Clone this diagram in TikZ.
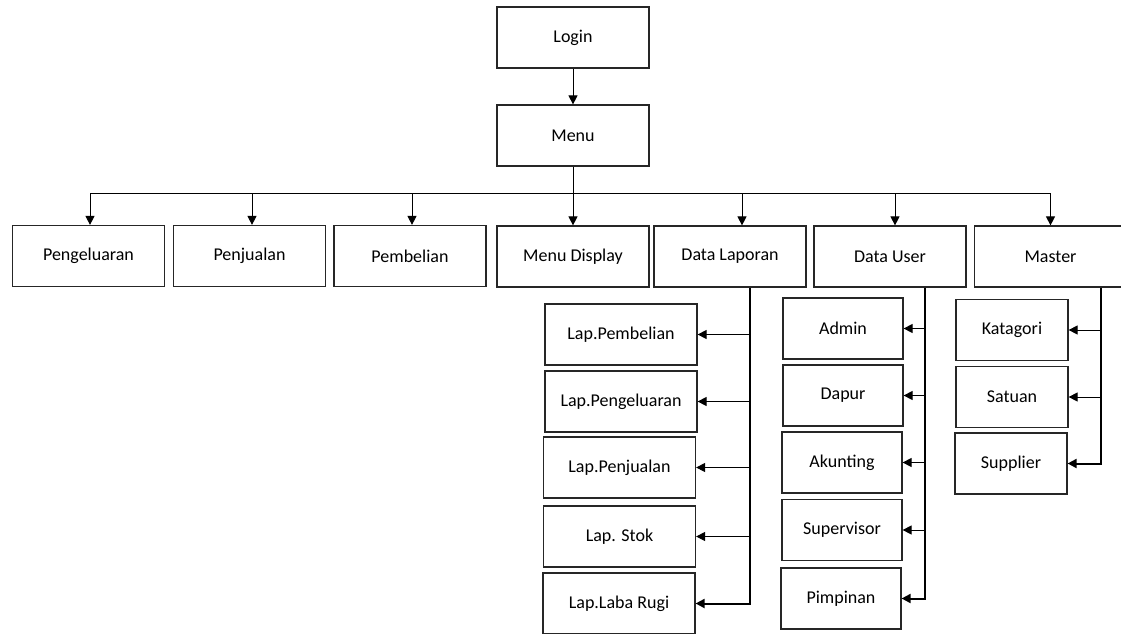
\documentclass[tikz,border=0pt]{standalone}
\usepackage{fontspec}
\setmainfont{Carlito}
\usetikzlibrary{arrows.meta}
\begin{document}
\begin{tikzpicture}[x=1pt,y=-1pt,
    kotak/.style={draw=black!85, line width=1.2pt, minimum width=152pt, minimum height=61pt, inner sep=0pt, font=\fontsize{18}{21}\selectfont},
    kecil/.style={kotak, minimum width=120pt},
    mini/.style={kotak, minimum width=112pt},
    panah/.style={-{Triangle[length=9pt,width=9pt]}, line width=1pt},
    tebal/.style={line width=2pt}]
         \useasboundingbox (0,0) rectangle (1121,634);

         \node (login) at (573,37.5) [kotak]{Login};
         \node (menu) at (573,135.5) [kotak]{Menu};

         \node (pengeluaran) at (88.5,256) [kotak]{Pengeluaran};
         \node (penjualan) at (249.5,256) [kotak]{Penjualan};
         \node (pembelian) at (410,256) [kotak]{Pembelian};
         \node (mdisplay) at (573,256.5) [kotak]{Menu Display};
         \node (dlaporan) at (730,256.5) [kotak]{Data Laporan};
         \node (duser) at (890,256.5) [kotak]{Data User};
         \node (master) at (1050.5,256.5) [kotak]{Master};

         \node (lbeli) at (621,334.5) [kotak]{Lap.Pembelian};
         \node (lkeluar) at (621,401.5) [kotak]{Lap.Pengeluaran};
         \node (ljual) at (619.5,467.5) [kotak]{Lap.Penjualan};
         \node (lstok) at (619.5,536.5) [kotak]{Lap. Stok};
         \node (lrugi) at (619,603.5) [kotak]{Lap.Laba Rugi};

         \node (admin) at (843,328.5) [kecil]{Admin};
         \node (dapur) at (843,395.5) [kecil]{Dapur};
         \node (akunting) at (842,462.5) [kecil]{Akunting};
         \node (supervisor) at (842,530) [kecil]{Supervisor};
         \node (pimpinan) at (841,598.5) [kecil]{Pimpinan};

         \node (katagori) at (1012,330) [mini]{Katagori};
         \node (satuan) at (1012,397) [mini]{Satuan};
         \node (supplier) at (1011,463.5) [mini]{Supplier};

         % menu utama
         \draw[panah] (login) -- (menu);
         \coordinate (bus) at (573,193);
         \draw[line width=1pt] (menu) -- (bus);
         \draw[line width=1pt] ([xshift=1.5]pengeluaran.north |- bus) -- (master.north |- bus);
         \foreach \n/\dx in {pengeluaran/1.5, penjualan/2.5, pembelian/2, mdisplay/0, dlaporan/12, duser/5, master/0}
             \draw[panah] ([xshift=\dx]\n.north |- bus) -- ([xshift=\dx]\n.north);

         % sub menu
         \draw[panah, tebal] ([xshift=20]dlaporan.south) |- (lrugi);
         \foreach \n in {lbeli, lkeluar, ljual, lstok}
             \draw[panah] ([xshift=20]dlaporan.south |- \n) -- (\n);

         \draw[panah, tebal] ([xshift=35]duser.south) |- (pimpinan);
         \foreach \n in {admin, dapur, akunting, supervisor}
             \draw[panah] ([xshift=35]duser.south |- \n) -- (\n);

         \draw[panah, tebal] ([xshift=50]master.south) |- (supplier);
         \foreach \n in {katagori, satuan}
             \draw[panah] ([xshift=50]master.south |- \n) -- (\n);
         \end{tikzpicture}
\end{document}
